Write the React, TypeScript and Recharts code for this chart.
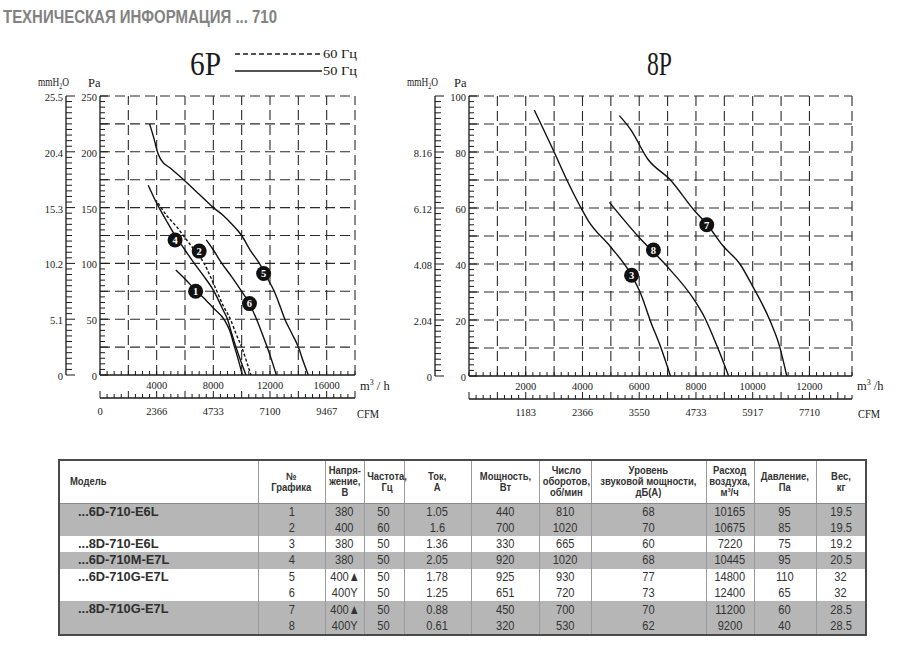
import React from 'react'
import { ComposedChart, Line, Scatter, XAxis, YAxis, ReferenceLine } from 'recharts'

// ---- 6P: air flow (m3/h) vs static pressure (Pa)
const curve1 = [[5350, 94], [6000, 86], [6750, 76], [7400, 68], [8000, 60], [8800, 49], [9150, 40], [9500, 25], [9800, 12], [10050, 0]]
const curve2 = [[4100, 154], [4700, 143], [5400, 133], [6000, 123], [6600, 113], [7350, 100], [7800, 88], [8250, 75], [8700, 62], [9200, 50], [9600, 37], [10000, 25], [10350, 12], [10650, 0]]
const curve4 = [[3400, 170], [4000, 154], [4700, 138], [5300, 125], [6000, 112], [6600, 101], [7300, 89], [8000, 76], [8400, 66], [8700, 58], [9000, 50], [9300, 37], [9600, 25], [9950, 12], [10300, 0]]
const curve5 = [[3500, 225], [3850, 210], [4050, 200], [4300, 193], [5000, 185], [5900, 175], [7000, 162], [8000, 150], [8700, 143], [9400, 134], [10000, 125], [10600, 112], [11250, 100], [11800, 87], [12300, 75], [12700, 62], [13050, 50], [13550, 37], [14000, 25], [14350, 12], [14700, 0]]
const curve6 = [[7500, 121], [8000, 112], [8600, 100], [9300, 88], [10000, 75], [10500, 65], [11050, 50], [11450, 37], [11800, 25], [12150, 12], [12450, 0]]
const markers6P = [
  { x: 5300, y: 121, n: 4 },
  { x: 7000, y: 111, n: 2 },
  { x: 6750, y: 75, n: 1 },
  { x: 11550, y: 91, n: 5 },
  { x: 10550, y: 64, n: 6 },
]

// ---- 8P
const curve3 = [[2300, 95], [3000, 80], [3450, 70], [3950, 60], [4200, 55.5], [5000, 46], [5700, 36.5], [6050, 29.5], [6400, 19.5], [6750, 10.5], [7100, 0]]
const curve7 = [[5300, 93], [5700, 88], [6300, 77.5], [7100, 70], [7950, 59], [8400, 54], [8950, 46.5], [9550, 40], [10000, 32], [10600, 20], [10950, 10.5], [11200, 0]]
const curve8 = [[4950, 62], [5950, 50], [6950, 39.5], [7950, 27], [8300, 21], [8750, 10.5], [9150, 0]]
const markers8P = [
  { x: 5730, y: 36, n: 3 },
  { x: 6500, y: 45, n: 8 },
  { x: 8380, y: 54, n: 7 },
]

// ---- axes
const m3Labels6 = [4000, 8000, 12000, 16000]
const cfmAt6 = [0, 4000, 8000, 12000, 16000]
const cfmLabels6 = ['0', '2366', '4733', '7100', '9467']
const paLabels6 = [0, 50, 100, 150, 200, 250]
const mmLabels6 = ['0', '5.1', '10.2', '15.3', '20.4', '25.5']
const xGrid6 = [2000, 4000, 6000, 8000, 10000, 12000, 14000, 16000, 18000]
const yGrid6 = [25, 50, 75, 100, 125, 150, 175, 200, 225, 250]

const m3Labels8 = [2000, 4000, 6000, 8000, 10000, 12000]
const cfmAt8 = [2000, 4000, 6000, 8000, 10000, 12000]
const cfmLabels8 = ['1183', '2366', '3550', '4733', '5917', '7710']
const paLabels8 = [0, 20, 40, 60, 80, 100]
const mmLabels8 = ['0', '2.04', '4.08', '6.12', '8.16', '']
const xGrid8 = [1000, 2000, 3000, 4000, 5000, 6000, 7000, 8000, 9000, 10000, 11000, 12000, 13500]
const yGrid8 = [10, 20, 30, 40, 50, 60, 70, 80, 90, 100]

// ---- table
const models = ['...6D-710-E6L', '...8D-710-E6L', '...6D-710M-E7L', '...6D-710G-E7L', '...8D-710G-E7L']
const modelRows = [2, 1, 1, 2, 2]
const graphNo = ['1', '2', '3', '4', '5', '6', '7', '8']
const voltage = ['380', '400', '380', '380', '400▲', '400Y', '400▲', '400Y']
const freq = ['50', '60', '50', '50', '50', '50', '50', '50']
const current = ['1.05', '1.6', '1.36', '2.05', '1.78', '1.25', '0.88', '0.61']
const power = ['440', '700', '330', '920', '925', '651', '450', '320']
const rpm = ['810', '1020', '665', '1020', '930', '720', '700', '530']
const sound = ['68', '70', '60', '68', '77', '73', '70', '62']
const airflow = ['10165', '10675', '7220', '10445', '14800', '12400', '11200', '9200']
const pressure = ['95', '85', '75', '95', '110', '65', '60', '40']
const weight = ['19.5', '19.5', '19.2', '20.5', '32', '32', '28.5', '28.5']
const headers = [
  'Модель', '№\nГрафика', 'Напря-\nжение,\nВ', 'Частота,\nГц', 'Ток,\nА', 'Мощность,\nВт',
  'Число\nоборотов,\nоб/мин', 'Уровень\nзвуковой мощности,\nдБ(А)', 'Расход\nвоздуха,\nм³/ч', 'Давление,\nПа', 'Вес,\nкг',
]
const colW = [199, 67, 39, 40, 67, 68, 52, 115, 48, 62, 50]

const INK = '#1a1a1a'
const SERIF = '"Liberation Serif", "Times New Roman", serif'
const SANS = '"Liberation Sans", Arial, sans-serif'

const steps = (step: number, max: number) =>
  Array.from({ length: Math.floor(max / step) + 1 }, (_, i) => i * step)
const toPts = (arr: number[][]) => arr.map(([x, y]) => ({ x, y }))

const leftTick = (major: number, label: (v: number) => string | undefined, minorLen: number, majorLen: number) =>
  (p: any) => {
    const v = Number(p.payload.value)
    const len = v % major === 0 ? majorLen : minorLen
    const lab = label(v)
    return (
      <g>
        <line x1={p.x} y1={p.y} x2={p.x + len} y2={p.y} stroke={INK} strokeWidth={1} />
        {lab ? (
          <text x={p.x - 3} y={p.y + 5} textAnchor="end" fontSize={10.5} fontFamily={SERIF} fill={INK}>{lab}</text>
        ) : null}
      </g>
    )
  }

const bottomTick = (major: number, label: (v: number) => string | undefined, dy: number, minorLen: number, majorLen: number) =>
  (p: any) => {
    const v = Number(p.payload.value)
    const len = v % major === 0 ? majorLen : minorLen
    const lab = label(v)
    return (
      <g>
        <line x1={p.x} y1={p.y} x2={p.x} y2={p.y - len} stroke={INK} strokeWidth={1} />
        {lab ? (
          <text x={p.x} y={p.y + dy} textAnchor="middle" fontSize={10.5} fontFamily={SERIF} fill={INK}>{lab}</text>
        ) : null}
      </g>
    )
  }

const Marker = (props: any) => {
  const { cx, cy, payload } = props
  return (
    <g>
      <circle cx={cx} cy={cy} r={7.5} fill="#111" />
      <text x={cx} y={cy + 3.8} textAnchor="middle" fontSize={10.5} fontWeight="bold" fontFamily={SERIF} fill="#fff">
        {payload.n}
      </text>
    </g>
  )
}

interface Cfg {
  width: number
  margin: { top: number; right: number; bottom: number; left: number }
  xMax: number
  yMax: number
  xStep: number
  xMajor: number
  m3Labels: number[]
  cfmAt: number[]
  cfmLabels: string[]
  yStep: number
  paLabels: number[]
  mmLabels: string[]
  xGrid: number[]
  yGrid: number[]
  curves: { data: number[][]; dashed?: boolean }[]
  markers: { x: number; y: number; n: number }[]
}

const chart6: Cfg = {
  width: 400,
  margin: { top: 96, right: 45, bottom: 2, left: 32 },
  xMax: 18000, yMax: 250, xStep: 500, xMajor: 2000,
  m3Labels: m3Labels6, cfmAt: cfmAt6, cfmLabels: cfmLabels6,
  yStep: 5, paLabels: paLabels6, mmLabels: mmLabels6,
  xGrid: xGrid6, yGrid: yGrid6,
  curves: [{ data: curve5 }, { data: curve4 }, { data: curve2, dashed: true }, { data: curve1 }, { data: curve6 }],
  markers: markers6P,
}

const chart8: Cfg = {
  width: 520,
  margin: { top: 96, right: 48, bottom: 1, left: 21 },
  xMax: 13500, yMax: 100, xStep: 250, xMajor: 1000,
  m3Labels: m3Labels8, cfmAt: cfmAt8, cfmLabels: cfmLabels8,
  yStep: 2, paLabels: paLabels8, mmLabels: mmLabels8,
  xGrid: xGrid8, yGrid: yGrid8,
  curves: [{ data: curve3 }, { data: curve8 }, { data: curve7 }],
  markers: markers8P,
}

// axis ids: "x1"/"y1" sit next to the plot, "x2"/"y2" further out
function FanChart({ cfg }: { cfg: Cfg }) {
  const xTicks = steps(cfg.xStep, cfg.xMax)
  const yTicks = steps(cfg.yStep, cfg.yMax)
  const axisLine = { stroke: INK, strokeWidth: 1.3 }
  const gridProps = { xAxisId: 'x1', yAxisId: 'y1', stroke: '#2a2a2a', strokeWidth: 1.1, strokeDasharray: '10 5' }
  return (
    <ComposedChart width={cfg.width} height={430} margin={cfg.margin}>
      <XAxis
        xAxisId="x1" dataKey="x" type="number" domain={[0, cfg.xMax]} allowDataOverflow
        ticks={xTicks} interval={0} tickSize={0} tickMargin={0} height={23} axisLine={axisLine} tickLine={false}
        tick={bottomTick(cfg.xMajor, (v) => (cfg.m3Labels.includes(v) ? String(v) : undefined), 14, 4, 4)}
      />
      <XAxis
        xAxisId="x2" dataKey="x" type="number" domain={[0, cfg.xMax]} allowDataOverflow
        ticks={xTicks} interval={0} tickSize={0} tickMargin={0} height={30} axisLine={axisLine} tickLine={false}
        tick={bottomTick(cfg.xMajor, (v) => {
          const i = cfg.cfmAt.indexOf(v)
          return i >= 0 ? cfg.cfmLabels[i] : undefined
        }, 17, 4, 7)}
      />
      <YAxis
        yAxisId="y1" dataKey="y" type="number" domain={[0, cfg.yMax]} allowDataOverflow
        ticks={yTicks} interval={0} tickSize={0} tickMargin={0} width={34} axisLine={axisLine} tickLine={false}
        tick={leftTick(cfg.yStep * 5, (v) => (cfg.paLabels.includes(v) ? String(v) : undefined), 5, 8)}
      />
      <YAxis
        yAxisId="y2" type="number" domain={[0, cfg.yMax]} allowDataOverflow
        ticks={yTicks} interval={0} tickSize={0} tickMargin={0} width={34} axisLine={axisLine} tickLine={false}
        tick={leftTick(cfg.paLabels[1], (v) => {
          const i = cfg.paLabels.indexOf(v)
          return i >= 0 ? cfg.mmLabels[i] : undefined
        }, 6, 9)}
      />
      {cfg.xGrid.map((v) => (
        <ReferenceLine key={'gx' + v} x={v} {...gridProps} />
      ))}
      {cfg.yGrid.map((v) => (
        <ReferenceLine key={'gy' + v} y={v} {...gridProps} />
      ))}
      {cfg.curves.map((c, i) => (
        <Line
          key={i} xAxisId="x1" yAxisId="y1" data={toPts(c.data)} dataKey="y" type="monotone"
          stroke="#111" strokeWidth={1.4} strokeDasharray={c.dashed ? '3 2' : undefined}
          dot={false} activeDot={false} isAnimationActive={false}
        />
      ))}
      <Scatter xAxisId="x1" yAxisId="y1" data={cfg.markers} shape={Marker} isAnimationActive={false} />
    </ComposedChart>
  )
}

function MmLabel({ x, y }: { x: number; y: number }) {
  return (
    <g transform={`translate(${x},${y}) scale(0.78,1)`}>
      <text x={0} y={0} fontSize={12} fontFamily={SERIF} fill={INK}>
        mmH<tspan fontSize={7.5} dy={2.5}>2</tspan><tspan dy={-2.5}>O</tspan>
      </text>
    </g>
  )
}

function Labels() {
  return (
    <svg width={900} height={440} style={{ position: 'absolute', left: 0, top: 0, pointerEvents: 'none' }}>
      <text x={3} y={22.5} fontSize={17.5} fontWeight="bold" fontFamily={SANS} fill="#828282" textLength={274} lengthAdjust="spacingAndGlyphs">
        ТЕХНИЧЕСКАЯ ИНФОРМАЦИЯ  ... 710
      </text>
      <text x={190} y={75} fontSize={34} fontFamily={SERIF} fill={INK} textLength={31} lengthAdjust="spacingAndGlyphs">6P</text>
      <line x1={235} y1={54} x2={322} y2={54} stroke={INK} strokeWidth={1.4} strokeDasharray="5 3" />
      <text x={323} y={58} fontSize={12.5} fontFamily={SERIF} fill={INK} textLength={34} lengthAdjust="spacingAndGlyphs">60 Гц</text>
      <line x1={235} y1={71} x2={322} y2={71} stroke={INK} strokeWidth={1.5} />
      <text x={323} y={75} fontSize={12.5} fontFamily={SERIF} fill={INK} textLength={34} lengthAdjust="spacingAndGlyphs">50 Гц</text>
      <MmLabel x={38} y={86} />
      <text x={88} y={87} fontSize={12.5} fontFamily={SERIF} fill={INK}>Pa</text>
      <text x={360} y={390} fontSize={12.5} fontFamily={SERIF} fill={INK}>m<tspan fontSize={8} dy={-5}>3</tspan><tspan dy={5}> / h</tspan></text>
      <text x={357} y={418} fontSize={12.5} fontFamily={SERIF} fill={INK} textLength={22} lengthAdjust="spacingAndGlyphs">CFM</text>

      <text x={647} y={75} fontSize={34} fontFamily={SERIF} fill={INK} textLength={25} lengthAdjust="spacingAndGlyphs">8P</text>
      <MmLabel x={407} y={86} />
      <text x={454} y={87} fontSize={12.5} fontFamily={SERIF} fill={INK}>Pa</text>
      <text x={857} y={390} fontSize={12.5} fontFamily={SERIF} fill={INK}>m<tspan fontSize={8} dy={-5}>3</tspan><tspan dy={5}> /h</tspan></text>
      <text x={858} y={418} fontSize={12.5} fontFamily={SERIF} fill={INK} textLength={22} lengthAdjust="spacingAndGlyphs">CFM</text>
    </svg>
  )
}

const narrow = (s: string, k: number, origin = 'center') => (
  <span style={{ display: 'inline-block', transform: `scaleX(${k})`, transformOrigin: origin }}>{s}</span>
)

function SpecTable() {
  const gray = '#b6b6b6'
  const rows: React.ReactNode[] = []
  let r = 0
  models.forEach((m, gi) => {
    for (let k = 0; k < modelRows[gi]; k++) {
      const vals = [graphNo[r], voltage[r], freq[r], current[r], power[r], rpm[r], sound[r], airflow[r], pressure[r], weight[r]]
      rows.push(
        <tr key={r} style={{ background: gi % 2 === 0 ? gray : '#fff', height: 16.4 }}>
          {k === 0 ? (
            <td rowSpan={modelRows[gi]} style={{ verticalAlign: 'top', padding: '0 0 0 18px', fontSize: 13.5, fontWeight: 'bold', lineHeight: '16px', color: '#2e2e2e' }}>
              {narrow(m, 0.95, 'left center')}
            </td>
          ) : null}
          {vals.map((v, j) => (
            <td key={j} style={{ textAlign: 'center', padding: 0, fontSize: 13.5, lineHeight: '16px', color: '#333', borderLeft: '1px solid #9a9a9a' }}>
              {narrow(v, 0.82)}
            </td>
          ))}
        </tr>,
      )
      r++
    }
  })
  return (
    <table
      style={{
        position: 'absolute', left: 58, top: 459, width: 807, borderCollapse: 'collapse', tableLayout: 'fixed',
        border: '2px solid #4a4a4a', fontFamily: SANS,
      }}
    >
      <colgroup>
        {colW.map((w, i) => <col key={i} style={{ width: w }} />)}
      </colgroup>
      <thead>
        <tr style={{ height: 43 }}>
          {headers.map((h, i) => (
            <th
              key={i}
              style={{
                padding: i === 0 ? '0 0 0 10px' : 0, textAlign: i === 0 ? 'left' : 'center', fontSize: 10.5, lineHeight: '11px',
                color: '#333', whiteSpace: 'pre-line', borderLeft: i === 0 ? 'none' : '1px solid #9a9a9a', borderBottom: '1px solid #8a8a8a',
              }}
            >
              {narrow(h, 0.9, i === 0 ? 'left center' : 'center')}
            </th>
          ))}
        </tr>
      </thead>
      <tbody>{rows}</tbody>
    </table>
  )
}

export default function App() {
  return (
    <div style={{ position: 'absolute', left: 0, top: 0, width: 900, height: 662, background: '#fff', overflow: 'hidden' }}>
      <div style={{ position: 'absolute', left: 0, top: 0 }}>
        <FanChart cfg={chart6} />
      </div>
      <div style={{ position: 'absolute', left: 380, top: 0 }}>
        <FanChart cfg={chart8} />
      </div>
      <Labels />
      <SpecTable />
    </div>
  )
}
